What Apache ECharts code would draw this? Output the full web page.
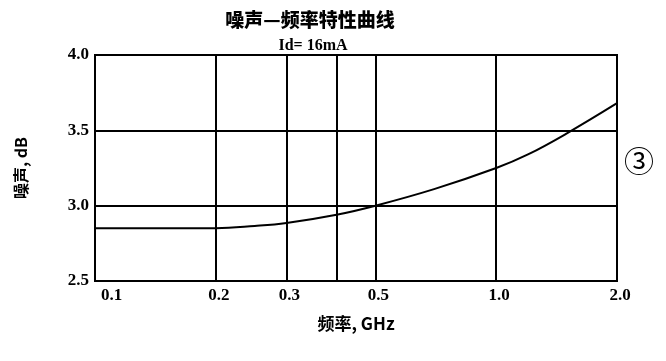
<!DOCTYPE html>
<html>
<head>
<meta charset="utf-8">
<script src="https://cdn.jsdelivr.net/npm/echarts@6/dist/echarts.min.js"></script>
<style>
html,body{margin:0;padding:0;background:#fff;}
#c{width:666px;height:361px;}
</style>
</head>
<body>
<div id="c"></div>
<script>
const titleText = '噪声—频率特性曲线';
const subtitleText = 'Id= 16mA';
const xName = '频率, GHz';
const yName = '噪声, dB';
const freq = [0.1, 0.15, 0.2, 0.25, 0.3, 0.4, 0.5, 0.7, 1.0, 1.2, 1.5, 2.0];
const noise = [2.85, 2.85, 2.85, 2.865, 2.885, 2.94, 3.0, 3.11, 3.25, 3.34, 3.48, 3.68];
const xGridValues = [0.1, 0.2, 0.3, 0.4, 0.5, 1.0, 2.0];
const xLabelValues = [0.1, 0.2, 0.3, 0.5, 1.0, 2.0];
const yTicks = [2.5, 3.0, 3.5, 4.0];
const curveTag = '③';

const numFont = '"Liberation Serif", serif';
const cjkFont = '"Noto Sans CJK SC", sans-serif';

const chart = echarts.init(document.getElementById('c'), null, {renderer: 'canvas'});
chart.setOption({
  animation: false,
  backgroundColor: '#fff',
  title: [
    {text: titleText, left: 305, top: 5, textAlign: 'center',
     textStyle: {fontFamily: cjkFont, fontWeight: 900, fontSize: 19, color: '#000'}},
    {text: subtitleText, left: 308, top: 33, textAlign: 'center',
     textStyle: {fontFamily: numFont, fontWeight: 'bold', fontSize: 16, color: '#000'}}
  ],
  grid: {left: 95, right: 49, top: 55, bottom: 80, show: true, borderColor: '#000', borderWidth: 2},
  xAxis: {
    type: 'log', logBase: 10, min: 0.1, max: 2.0,
    name: xName, nameLocation: 'middle', nameGap: 34,
    nameTextStyle: {fontFamily: cjkFont, fontWeight: 'bold', fontSize: 17, color: '#000'},
    axisLine: {show: true, lineStyle: {color: '#000', width: 2}},
    axisTick: {show: false, customValues: xGridValues},
    axisLabel: {
      customValues: xLabelValues,
      formatter: v => Number(v).toFixed(1),
      fontFamily: numFont, fontWeight: 'bold', fontSize: 17, color: '#000', margin: 6,
      alignMinLabel: 'left', padding: [0, 0, 0, 6]
    },
    splitLine: {show: false}
  },
  yAxis: {
    type: 'value', min: 2.5, max: 4.0, interval: 0.5,
    name: yName, nameLocation: 'middle', nameGap: 66, nameRotate: 90,
    nameTextStyle: {fontFamily: cjkFont, fontWeight: 'bold', fontSize: 16, color: '#000'},
    axisLine: {show: true, lineStyle: {color: '#000', width: 2}},
    axisTick: {show: false},
    axisLabel: {formatter: v => v.toFixed(1), fontFamily: numFont, fontWeight: 'bold', fontSize: 17, color: '#000', margin: 6},
    splitLine: {show: true, lineStyle: {color: '#000', width: 2}}
  },
  series: [{
    type: 'line', data: freq.map((f, i) => [f, noise[i]]),
    smooth: 0.4, showSymbol: false,
    lineStyle: {color: '#000', width: 2},
    markLine: {
      silent: true, symbol: 'none', label: {show: false},
      lineStyle: {color: '#000', width: 2, type: 'solid'},
      data: xGridValues.map(v => ({xAxis: v}))
    }
  }],
  graphic: [{
    type: 'text', left: 624, top: 146,
    style: {text: curveTag, font: '30px "Noto Sans CJK SC", sans-serif', fill: '#000'}
  }]
});
</script>
</body>
</html>
